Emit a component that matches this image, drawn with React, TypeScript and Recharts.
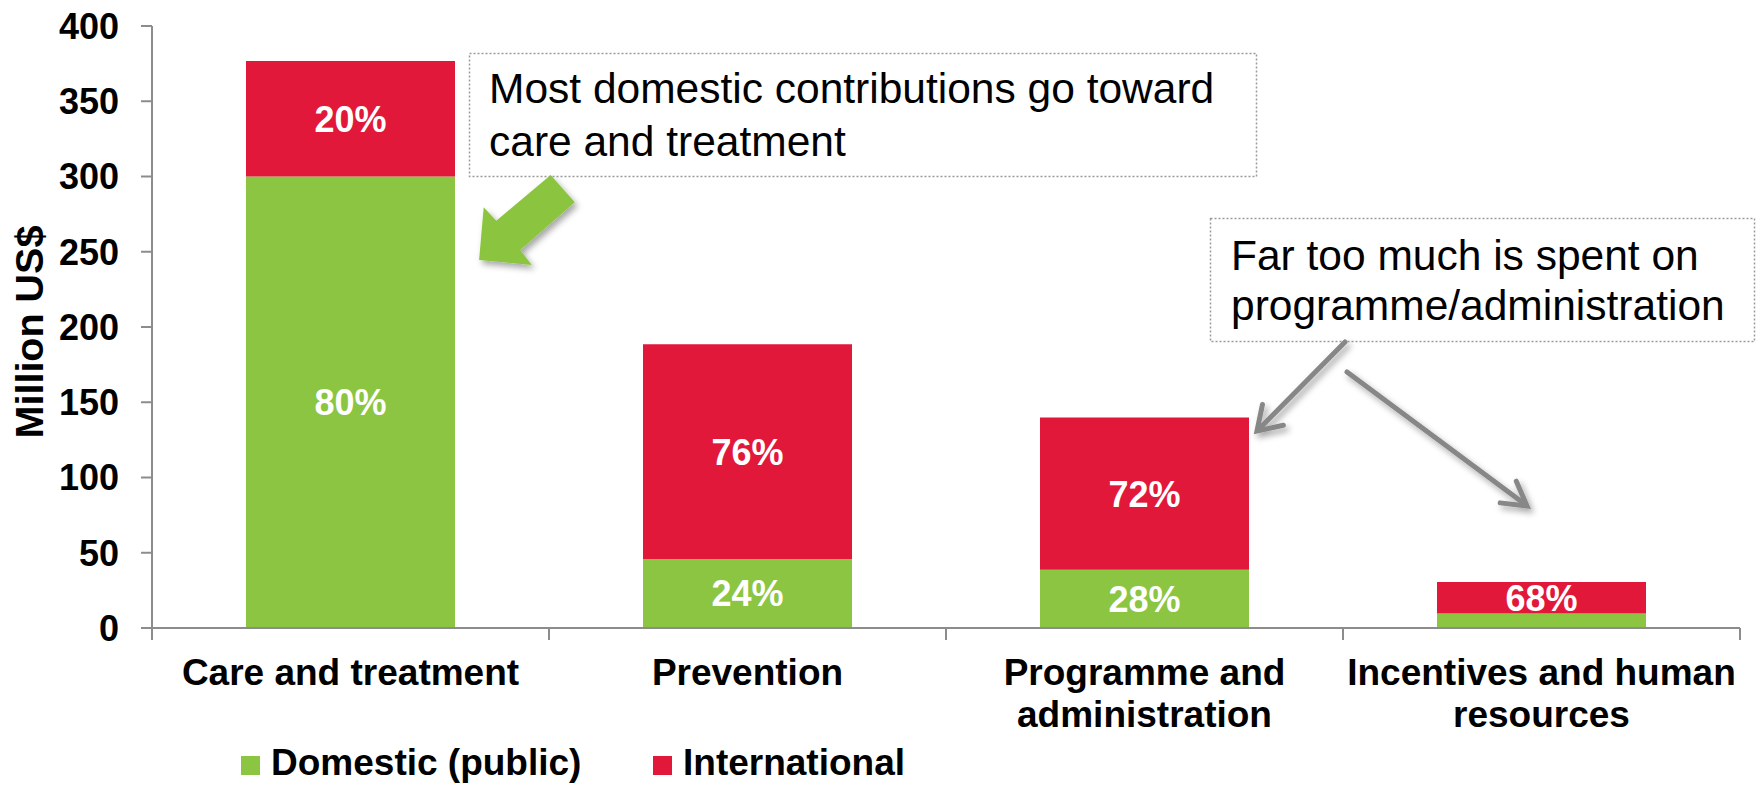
import React from 'react';
import { BarChart, Bar, XAxis, YAxis, LabelList } from 'recharts';

// values (million US$)
const categories = ['Care and treatment', 'Prevention', 'Programme and administration', 'Incentives and human resources'];
const categoryLines = [['Care and treatment'], ['Prevention'], ['Programme and', 'administration'], ['Incentives and human', 'resources']];
const domestic = [300, 45.8, 38.7, 9.7];
const international = [76.7, 142.7, 101.1, 20.8];
const domesticShare = ['80%', '24%', '28%', '32%'];
const internationalShare = ['20%', '76%', '72%', '68%'];
const yTicks = [0, 50, 100, 150, 200, 250, 300, 350, 400];
const seriesNames = ['Domestic (public)', 'International'];
const yLabel = 'Million US$';
const notes = [
  ['Most domestic contributions go toward', 'care and treatment'],
  ['Far too much is spent on', 'programme/administration'],
];

const GREEN = '#8BC541';
const RED = '#E2183A';
const AXIS = '#8C8C8C';
const ARROW = '#878787';
const FONT = '"Liberation Sans", Arial, Helvetica, sans-serif';

const W = 1758;
const H = 785;
const PLOT_LEFT = 152;
const PLOT_RIGHT = 1740;
const BAND = (PLOT_RIGHT - PLOT_LEFT) / categories.length;

const data = categories.map((name, i) => ({
  name,
  domestic: domestic[i],
  international: international[i],
  dPct: domesticShare[i],
  iPct: internationalShare[i],
}));

const CategoryTick = (props: any) => {
  const { x, y, payload } = props;
  const idx = categories.indexOf(payload.value);
  const lines = categoryLines[idx] || [payload.value];
  const last = idx === categories.length - 1;
  return (
    <g>
      <line x1={x - BAND / 2} x2={x - BAND / 2} y1={y} y2={y + 12} stroke={AXIS} strokeWidth={2} />
      {last && <line x1={x + BAND / 2} x2={x + BAND / 2} y1={y} y2={y + 12} stroke={AXIS} strokeWidth={2} />}
      {lines.map((l, i) => (
        <text key={i} x={x} y={y + 57 + i * 42} textAnchor="middle" fill="#000" fontFamily={FONT} fontWeight="bold" fontSize={37}>
          {l}
        </text>
      ))}
    </g>
  );
};

const segmentLabel = (props: any) => {
  const { x, y, width, height, value } = props;
  if (height < 20) return null;
  return (
    <text x={x + width / 2} y={y + height / 2} dy="0.36em" textAnchor="middle" fill="#fff" fontFamily={FONT} fontWeight="bold" fontSize={36}>
      {value}
    </text>
  );
};

const YTitle = (props: any) => {
  const vb = props.viewBox;
  const x = vb.x - 9;
  const y = vb.y + vb.height / 2 + 5;
  return (
    <text x={x} y={y} transform={`rotate(-90, ${x}, ${y})`} textAnchor="middle" fill="#000" fontFamily={FONT} fontWeight="bold" fontSize={39.5}>
      {yLabel}
    </text>
  );
};

// open arrow head helper
const arrowHead = (sx: number, sy: number, tx: number, ty: number, len: number, deg: number) => {
  const a = Math.atan2(sy - ty, sx - tx);
  const r = (deg * Math.PI) / 180;
  const p1 = [tx + len * Math.cos(a + r), ty + len * Math.sin(a + r)];
  const p2 = [tx + len * Math.cos(a - r), ty + len * Math.sin(a - r)];
  return `${p1[0]},${p1[1]} ${tx},${ty} ${p2[0]},${p2[1]}`;
};

const Overlay = () => (
  <svg width={W} height={H} style={{ position: 'absolute', left: 0, top: 0, pointerEvents: 'none' }}>
    <defs>
      <filter id="shadow" x="-20%" y="-20%" width="150%" height="150%">
        <feDropShadow dx="3" dy="4" stdDeviation="3" floodColor="#000" floodOpacity="0.35" />
      </filter>
    </defs>
    {/* callout 1 */}
    <rect x={469.5} y={53.5} width={787} height={123} fill="#fff" stroke="#9a9a9a" strokeWidth={1.5} strokeDasharray="2 2" />
    {notes[0].map((t, i) => (
      <text key={i} x={489} y={103 + i * 53} fill="#000" fontFamily={FONT} fontSize={42.5}>{t}</text>
    ))}
    <polygon
      points="550.7,175 574.8,202.3 520.3,250 531.8,265 479.1,260 483.7,207.3 496.3,220.7"
      fill={GREEN}
      filter="url(#shadow)"
    />
    {/* callout 2 */}
    <rect x={1210.5} y={218.5} width={544} height={123} fill="#fff" stroke="#9a9a9a" strokeWidth={1.5} strokeDasharray="2 2" />
    {notes[1].map((t, i) => (
      <text key={i} x={1231} y={270 + i * 50} fill="#000" fontFamily={FONT} fontSize={42.5}>{t}</text>
    ))}
    <g stroke={ARROW} strokeWidth={5} fill="none" strokeLinecap="round" strokeLinejoin="miter" filter="url(#shadow)">
      <line x1={1345} y1={342} x2={1258} y2={430} />
      <polyline points={arrowHead(1345, 342, 1257, 431, 27, 33)} />
      <line x1={1347} y1={372} x2={1526} y2={505} />
      <polyline points={arrowHead(1347, 372, 1527, 506, 27, 30)} />
    </g>
    {/* legend */}
    {seriesNames.map((n, i) => {
      const lx = i === 0 ? 241 : 653;
      return (
        <g key={n}>
          <rect x={lx} y={756} width={19} height={19} fill={i === 0 ? GREEN : RED} />
          <text x={lx + 30} y={775} fill="#000" fontFamily={FONT} fontWeight="bold" fontSize={37}>{n}</text>
        </g>
      );
    })}
  </svg>
);

export default function App() {
  return (
    <div style={{ position: 'absolute', left: 0, top: 0, width: W, height: H, background: '#fff', fontFamily: FONT }}>
      <BarChart width={W} height={H} data={data} margin={{ top: 26, right: W - PLOT_RIGHT, bottom: 57, left: 52 }}>
        <XAxis
          dataKey="name"
          height={100}
          interval={0}
          axisLine={{ stroke: AXIS, strokeWidth: 2 }}
          tickLine={false}
          tickSize={0}
          tickMargin={0}
          tick={<CategoryTick />}
        />
        <YAxis
          width={100}
          domain={[0, 400]}
          ticks={yTicks}
          interval={0}
          axisLine={{ stroke: AXIS, strokeWidth: 2 }}
          tickLine={{ stroke: AXIS, strokeWidth: 2 }}
          tickSize={11}
          tickMargin={22}
          tick={{ fill: '#000', fontSize: 36, fontWeight: 'bold', fontFamily: FONT }}
          label={<YTitle />}
        />
        <Bar dataKey="domestic" stackId="a" fill={GREEN} barSize={209} isAnimationActive={false}>
          <LabelList dataKey="dPct" content={segmentLabel} />
        </Bar>
        <Bar dataKey="international" stackId="a" fill={RED} barSize={209} isAnimationActive={false}>
          <LabelList dataKey="iPct" content={segmentLabel} />
        </Bar>
      </BarChart>
      <Overlay />
    </div>
  );
}
